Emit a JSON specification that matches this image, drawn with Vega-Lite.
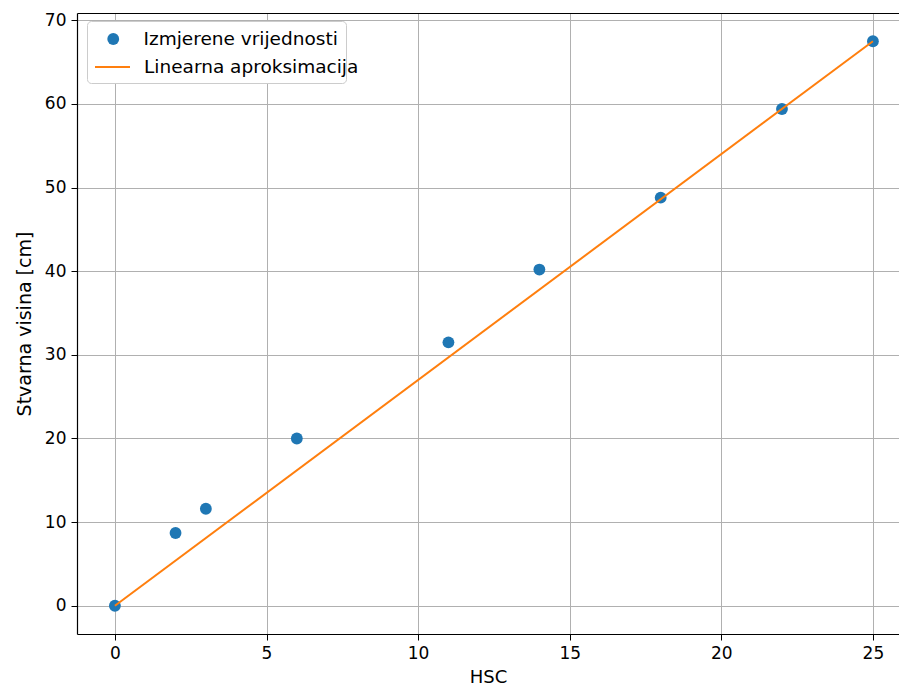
{
  "$schema": "https://vega.github.io/schema/vega-lite/v6.json",
  "width": 822,
  "height": 621,
  "autosize": "none",
  "padding": {"left": 77, "top": 13, "right": 0, "bottom": 55},
  "background": "white",
  "config": {
    "view": {"stroke": null},
    "font": "DejaVu Sans",
    "axis": {
      "grid": true,
      "gridColor": "#b0b0b0",
      "gridWidth": 1,
      "domainColor": "#000000",
      "domainWidth": 1.2,
      "tickColor": "#000000",
      "tickSize": 6,
      "labelFont": "DejaVu Sans",
      "labelFontSize": 17,
      "labelColor": "#000000",
      "labelPadding": 5,
      "titleFont": "DejaVu Sans",
      "titleFontSize": 18,
      "titleFontWeight": "normal",
      "titleColor": "#000000"
    },
    "legend": {
      "labelFont": "DejaVu Sans",
      "labelFontSize": 18.5,
      "labelColor": "#000000",
      "labelLimit": 400,
      "titleLimit": 400,
      "clipHeight": 20,
      "padding": 8,
      "orient": "none",
      "legendX": 10
    }
  },
  "datasets": {
    "points": [
      {"hsc": 0, "visina": 0, "series": "Izmjerene vrijednosti"},
      {"hsc": 2, "visina": 8.7, "series": "Izmjerene vrijednosti"},
      {"hsc": 3, "visina": 11.6, "series": "Izmjerene vrijednosti"},
      {"hsc": 6, "visina": 20.0, "series": "Izmjerene vrijednosti"},
      {"hsc": 11, "visina": 31.5, "series": "Izmjerene vrijednosti"},
      {"hsc": 14, "visina": 40.2, "series": "Izmjerene vrijednosti"},
      {"hsc": 18, "visina": 48.8, "series": "Izmjerene vrijednosti"},
      {"hsc": 22, "visina": 59.4, "series": "Izmjerene vrijednosti"},
      {"hsc": 25, "visina": 67.5, "series": "Izmjerene vrijednosti"}
    ],
    "fit": [
      {"hsc": 0, "visina": 0, "series": "Linearna aproksimacija"},
      {"hsc": 25, "visina": 67.5, "series": "Linearna aproksimacija"}
    ]
  },
  "resolve": {"axis": {"x": "independent"}, "scale": {"color": "independent"}, "legend": {"color": "independent"}},
  "layer": [
    {
      "data": {"name": "points"},
      "mark": {"type": "point", "filled": true, "size": 140, "opacity": 1, "shape": "circle"},
      "encoding": {
        "x": {
          "field": "hsc", "type": "quantitative",
          "scale": {"domain": [-1.25, 25.86], "nice": false, "zero": false},
          "axis": {"values": [0, 5, 10, 15, 20, 25], "title": "HSC", "titlePadding": 7, "orient": "bottom"}
        },
        "y": {
          "field": "visina", "type": "quantitative",
          "scale": {"domain": [-3.375, 70.875], "nice": false, "zero": false},
          "axis": {"values": [0, 10, 20, 30, 40, 50, 60, 70], "title": "Stvarna visina [cm]", "titleFontSize": 19, "titlePadding": 10}
        },
        "color": {
          "field": "series", "type": "nominal",
          "scale": {"domain": ["Izmjerene vrijednosti"], "range": ["#1f77b4"]},
          "legend": {
            "title": "                                                ",
            "titleOrient": "bottom",
            "titleFontSize": 18,
            "titlePadding": 8,
            "legendY": 8,
            "fillColor": "white",
            "strokeColor": "#cccccc",
            "cornerRadius": 4,
            "symbolType": "circle",
            "symbolSize": 140,
            "symbolOffset": 9,
            "labelOffset": 21
          }
        }
      }
    },
    {
      "data": {"name": "fit"},
      "mark": {"type": "line", "strokeWidth": 2},
      "encoding": {
        "x": {
          "field": "hsc", "type": "quantitative",
          "axis": {"orient": "top", "labels": false, "ticks": false, "grid": false, "title": null, "domain": true}
        },
        "y": {"field": "visina", "type": "quantitative"},
        "color": {
          "field": "series", "type": "nominal",
          "scale": {"domain": ["Linearna aproksimacija"], "range": ["#ff7f0e"]},
          "legend": {
            "title": null,
            "legendY": 36,
            "symbolType": "stroke",
            "symbolSize": 1600,
            "symbolStrokeWidth": 2,
            "symbolOffset": -6,
            "labelOffset": 13
          }
        }
      }
    }
  ]
}
